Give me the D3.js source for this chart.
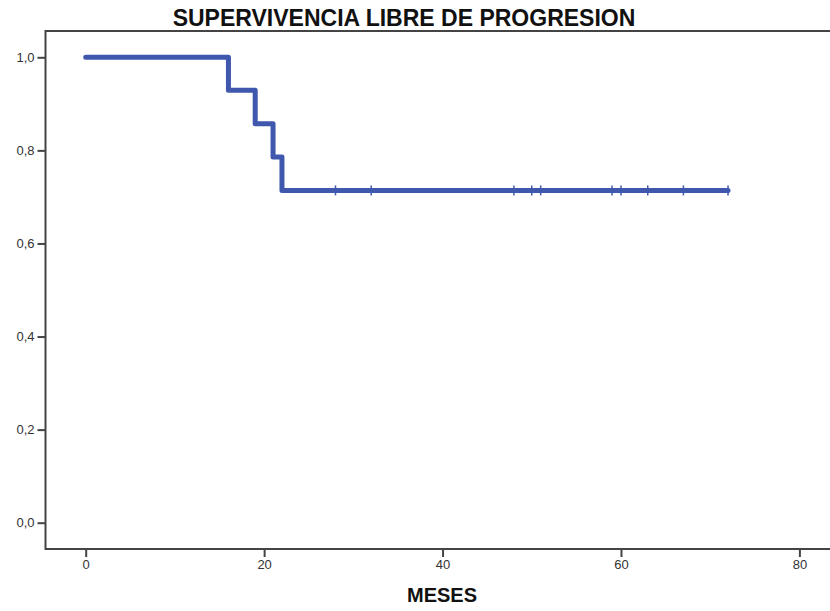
<!DOCTYPE html>
<html>
<head>
<meta charset="utf-8">
<script src="https://cdn.jsdelivr.net/npm/d3@7"></script>
<style>
  body { margin: 0; background: #fff; }
  svg { display: block; font-family: "Liberation Sans", Arial, sans-serif; }
</style>
</head>
<body>
<div id="chart"></div>
<script>
// data: Kaplan-Meier steps (months, survival) and censored times
var stepTimes = [0, 16, 19, 21, 22];
var stepSurv = [1.0, 0.929, 0.857, 0.786, 0.714];
var censorTimes = [28, 32, 48, 50, 51, 59, 60, 63, 67, 72];
var xTicks = [0, 20, 40, 60, 80];
var yTicks = [0, 0.2, 0.4, 0.6, 0.8, 1.0];

var width = 830, height = 611;
var frame = { left: 45.5, top: 31, right: 830, bottom: 549 };

var svg = d3.select("#chart").append("svg")
  .attr("width", width)
  .attr("height", height);

var x = d3.scaleLinear().domain([0, 80]).range([85.7, 799.4]);
var y = d3.scaleLinear().domain([0, 1]).range([522.7, 57.3]);

var axisColor = "#444";

// frame: left, top, bottom
svg.append("path")
  .attr("d", "M" + frame.right + "," + frame.top + "H" + frame.left + "V" + frame.bottom + "H" + frame.right)
  .attr("fill", "none")
  .attr("stroke", axisColor)
  .attr("stroke-width", 2);

// y axis
var yAxis = svg.append("g")
  .attr("transform", "translate(" + frame.left + ",0)")
  .call(d3.axisLeft(y).tickValues(yTicks).tickSize(8).tickPadding(3)
    .tickFormat(function (d) { return d3.format(".1f")(d).replace(".", ","); }));
yAxis.select(".domain").remove();
yAxis.selectAll(".tick line").attr("stroke", axisColor).attr("stroke-width", 2);
yAxis.selectAll(".tick text").attr("fill", "#333").style("font-size", "13px");

// x axis
var xAxis = svg.append("g")
  .attr("transform", "translate(0," + frame.bottom + ")")
  .call(d3.axisBottom(x).tickValues(xTicks).tickSize(8).tickPadding(3));
xAxis.select(".domain").remove();
xAxis.selectAll(".tick line").attr("stroke", axisColor).attr("stroke-width", 2);
xAxis.selectAll(".tick text").attr("fill", "#333").style("font-size", "13px");

// survival curve
var lastTime = d3.max(censorTimes);
var pts = stepTimes.map(function (t, i) { return [t, stepSurv[i]]; });
pts.push([lastTime, stepSurv[stepSurv.length - 1]]);

var line = d3.line()
  .x(function (d) { return x(d[0]); })
  .y(function (d) { return y(d[1]); })
  .curve(d3.curveStepAfter);

var blue = "#3f58ad";

svg.append("path")
  .datum(pts)
  .attr("d", line)
  .attr("fill", "none")
  .attr("stroke", blue)
  .attr("stroke-width", 5)
  .attr("stroke-linejoin", "round")
  .attr("stroke-linecap", "round");

// censor marks
var survAt = function (t) {
  var s = stepSurv[0];
  stepTimes.forEach(function (st, i) { if (st <= t) s = stepSurv[i]; });
  return s;
};
svg.append("g").selectAll("line")
  .data(censorTimes)
  .enter().append("line")
  .attr("x1", function (d) { return x(d); })
  .attr("x2", function (d) { return x(d); })
  .attr("y1", function (d) { return y(survAt(d)) - 5; })
  .attr("y2", function (d) { return y(survAt(d)) + 5; })
  .attr("stroke", blue)
  .attr("stroke-width", 1.5);

// title and axis label
svg.append("text")
  .attr("x", 404)
  .attr("y", 26)
  .attr("text-anchor", "middle")
  .style("font-size", "23px")
  .style("font-weight", "bold")
  .attr("fill", "#111")
  .text("SUPERVIVENCIA LIBRE DE PROGRESION");

svg.append("text")
  .attr("x", 442)
  .attr("y", 602)
  .attr("text-anchor", "middle")
  .style("font-size", "20px")
  .style("font-weight", "bold")
  .attr("fill", "#111")
  .text("MESES");
</script>
</body>
</html>
